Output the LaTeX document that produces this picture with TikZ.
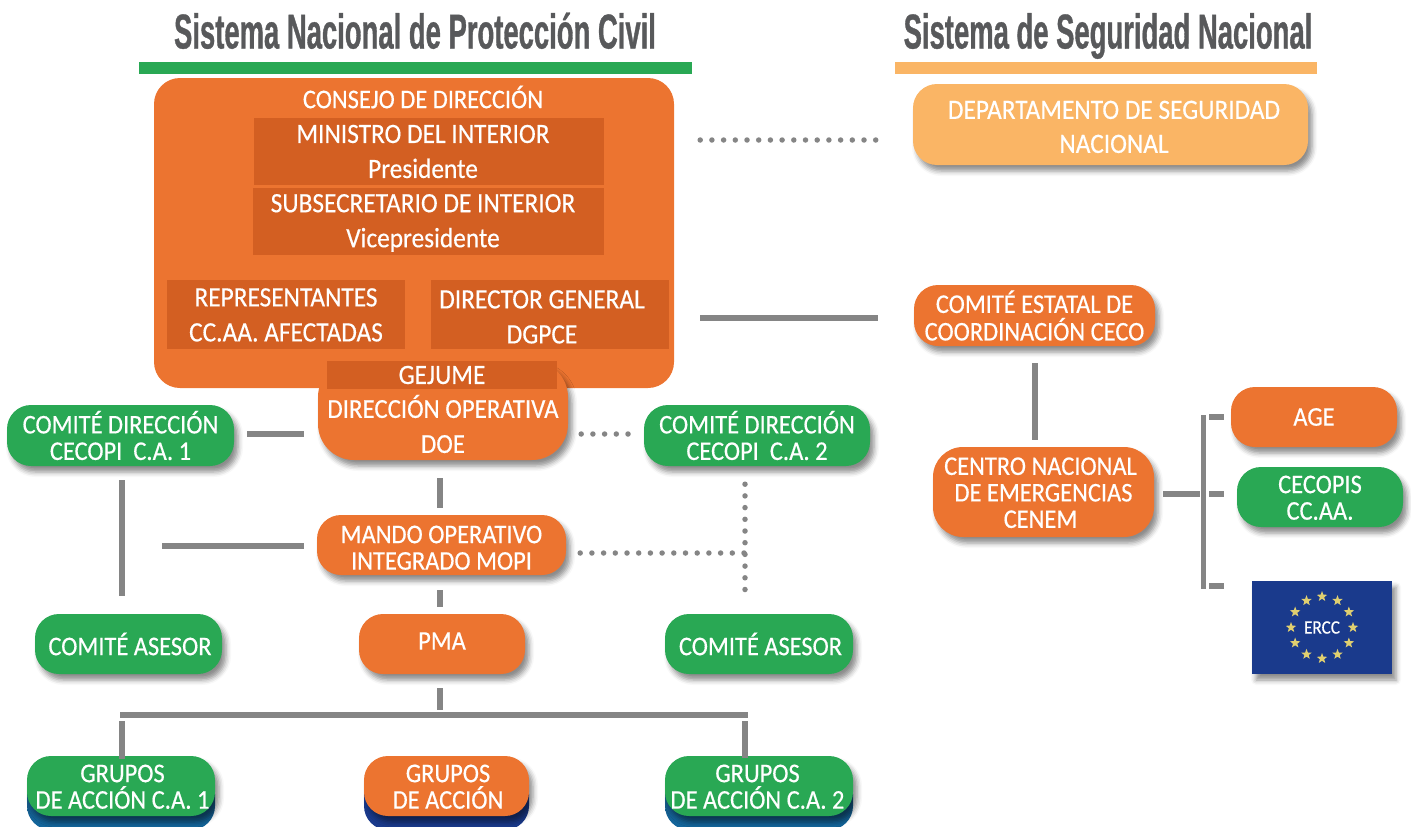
\documentclass[tikz,border=0pt]{standalone}
\usepackage{fontspec}
\setmainfont{Carlito}[FakeStretch=0.905,FakeBold=0.4]
\newfontfamily\titlefont{Liberation Sans Bold}[FakeStretch=0.56,FakeBold=0.7]
\usetikzlibrary{shadows.blur,shapes.geometric}

\definecolor{naranja}{HTML}{EC7430}
\definecolor{oscuro}{HTML}{D35F22}
\definecolor{verde}{HTML}{29A854}
\definecolor{claro}{HTML}{FAB565}
\definecolor{gris}{HTML}{858585}
\definecolor{titulo}{HTML}{58595B}
\definecolor{azul}{HTML}{1A3A8C}
\definecolor{teal}{HTML}{12689F}
\definecolor{tealoscuro}{HTML}{1A4A70}
\definecolor{estrella}{HTML}{E0CF70}

\newcommand{\baja}[1]{\rule{0pt}{#1pt}}
\newcommand{\sube}[1]{\rule[-#1pt]{0pt}{#1pt}}
\newcommand{\mueve}[1]{\hspace*{#1pt}}

\tikzstyle{sombra} = [blur shadow={shadow xshift=4pt, shadow yshift=-6pt, shadow blur radius=5pt, shadow opacity=45}]
\tikzstyle{pill} = [rectangle, rounded corners=24pt, inner sep=0pt, text=white, align=center, sombra, font=\fontsize{27}{26.5}\selectfont]
\tikzstyle{orange} = [pill, fill=naranja]
\tikzstyle{green} = [pill, fill=verde]
\tikzstyle{inner} = [rectangle, inner sep=0pt, fill=oscuro, text=white, align=center, font=\fontsize{28}{35}\selectfont]
\tikzstyle{base} = [rectangle, rounded corners=24pt, minimum width=188, minimum height=60]
\tikzstyle{baseteal} = [base, top color=tealoscuro, bottom color=teal]
\tikzstyle{heading} = [inner sep=0pt, anchor=base, text=titulo, font=\titlefont\fontsize{49}{50}\selectfont]
\tikzstyle{line} = [draw=gris, line width=5.5pt]
\tikzstyle{dots} = [draw=gris, line width=5.5pt, line cap=round, dash pattern=on 0pt off 11.7pt]

\begin{document}
\begin{tikzpicture}[x=1pt, y=-1pt]
	\useasboundingbox (0,0) rectangle (1411,827);

	% titles
	\node (tituloA) [heading] at (415,48.5) {Sistema Nacional de Protección Civil};
	\node (tituloB) [heading] at (1108,48.5) {Sistema de Seguridad Nacional};
	\node (barraA) [rectangle, fill=verde, inner sep=0pt, minimum width=553, minimum height=12] at (415.5,68) {};
	\node (barraB) [rectangle, fill=claro, inner sep=0pt, minimum width=422, minimum height=12] at (1106,67.5) {};

	% consejo
	\node (consejo) [rectangle, rounded corners=26pt, fill=naranja, minimum width=520, minimum height=310] at (414,233) {};
	\node (cabecera) [text=white, inner sep=0pt, font=\fontsize{27}{26}\selectfont] at (423,97) {CONSEJO DE DIRECCIÓN};
	\node (ministro) [inner, minimum width=350, minimum height=67] at (429,151.5) {MINISTRO DEL INTERIOR\mueve{12}\\Presidente\mueve{12}};
	\node (subsecretario) [inner, minimum width=351, minimum height=67] at (428.5,221.5) {\baja{21}SUBSECRETARIO DE INTERIOR\mueve{11}\\Vicepresidente\mueve{11}};
	\node (representantes) [inner, minimum width=238, minimum height=69] at (286,314.5) {\baja{19}REPRESENTANTES\\CC.AA. AFECTADAS};
	\node (director) [inner, minimum width=238, minimum height=69] at (550,314.5) {\baja{23}DIRECTOR GENERAL\mueve{16}\\DGPCE\mueve{16}};
	\node (doe) [orange, rounded corners=36pt, minimum width=250, minimum height=99, font=\fontsize{27.5}{35}\selectfont] at (443,410.5) {\baja{15}\\DIRECCIÓN OPERATIVA\\DOE};
	\node (gejume) [inner, minimum width=230, minimum height=28] at (442,375) {GEJUME};

	% left column
	\node (cecopiA) [green, minimum width=227, minimum height=61] at (120.5,435.5) {\sube{2}COMITÉ DIRECCIÓN\\CECOPI\ \ C.A. 1};
	\node (cecopiB) [green, minimum width=226, minimum height=61] at (757,435.5) {\sube{2}COMITÉ DIRECCIÓN\\CECOPI\ \ C.A. 2};
	\node (mopi) [orange, minimum width=249, minimum height=60] at (441.5,545) {\baja{23}MANDO OPERATIVO\\INTEGRADO MOPI};
	\node (asesorA) [green, minimum width=187, minimum height=60] at (128.5,644) {\mueve{3}COMITÉ ASESOR};
	\node (pma) [orange, minimum width=166, minimum height=60] at (442,644) {\sube{6}PMA};
	\node (asesorB) [green, minimum width=188, minimum height=60] at (759,644) {\mueve{3}COMITÉ ASESOR};

	% grupos
	\node (baseA) [baseteal] at (121,800) {};
	\node (baseB) [base, fill=azul, minimum width=165] at (446.5,800) {};
	\node (baseC) [baseteal] at (759,800) {};
	\node (gruposA) [green, minimum width=188, minimum height=60] at (121,786) {\baja{19}\mueve{3}GRUPOS\\\mueve{3}DE ACCIÓN C.A. 1};
	\node (gruposB) [orange, minimum width=165, minimum height=60] at (446.5,786) {\baja{19}\mueve{3}GRUPOS\\\mueve{3}DE ACCIÓN};
	\node (gruposC) [green, minimum width=188, minimum height=60] at (759,786) {\baja{19}GRUPOS\mueve{3}\\DE ACCIÓN C.A. 2\mueve{3}};

	% right column
	\node (dsn) [pill, fill=claro, minimum width=395, minimum height=81, font=\fontsize{28}{34}\selectfont] at (1110.5,124.5) {\baja{23}\mueve{7}DEPARTAMENTO DE SEGURIDAD\\\mueve{7}NACIONAL};
	\node (ceco) [orange, minimum width=241, minimum height=61] at (1034.5,315.5) {\sube{4}COMITÉ ESTATAL DE\\COORDINACIÓN CECO};
	\node (cenem) [orange, rounded corners=30pt, minimum width=221, minimum height=90] at (1043.5,492) {\baja{19}CENTRO NACIONAL\mueve{6}\\DE EMERGENCIAS\mueve{6}\\CENEM\mueve{6}};
	\node (age) [orange, minimum width=166, minimum height=60] at (1314,417) {AGE};
	\node (cecopis) [green, minimum width=166, minimum height=60] at (1320,497) {\baja{19}CECOPIS\\CC.AA.};
	\node (ercc) [rectangle, fill=azul, inner sep=0pt, text=white, sombra, minimum width=140, minimum height=93, font=\fontsize{19}{20}\selectfont] at (1322,627.5) {ERCC};
	\foreach \a in {0,30,...,330}
		\node (estrella\a) [star, star points=5, star point ratio=2.4, fill=estrella, inner sep=0pt, minimum size=11] at ([shift={(\a:31)}]ercc.center) {};

	% helpers
	\coordinate (busA) at (1203.5,415);
	\coordinate (busB) at (1203.5,589);
	\coordinate (ramaA) at (122,715);
	\coordinate (ramaB) at (745,715);

	% connectors
	\draw [dots, shorten <=26, shorten >=35] (consejo.east |- 0,140) -- (dsn.west |- 0,140);
	\draw [line, shorten <=26, shorten >=36] (consejo.east |- 0,318) -- (ceco.west |- 0,318);
	\draw [line, shorten <=17, shorten >=7] (1035,346) -- (1035,447);
	\draw [line, shorten <=9, shorten >=4] (cenem.east |- 0,494) -- (busA |- 0,494);
	\draw [line] (busA) -- (busB);
	\draw [line, shorten <=7, shorten >=5] (age.west) -- (age.west -| busA);
	\draw [line, shorten <=13, shorten >=5] (cecopis.west |- 0,494) -- (busA |- 0,494);
	\draw [line, shorten <=28, shorten >=5] (ercc.west |- 0,586) -- (busA |- 0,586);

	\draw [line, shorten <=13, shorten >=14] (cecopiA.east |- 0,434) -- (doe.west |- 0,434);
	\draw [dots, shorten <=13, shorten >=15] (doe.east |- 0,434) -- (cecopiB.west |- 0,434);
	\draw [line, shorten <=18, shorten >=7] (440,0 |- doe.south) -- (440,0 |- mopi.north);
	\draw [line, shorten <=14, shorten >=18] (122,0 |- cecopiA.south) -- (122,0 |- asesorA.north);
	\coordinate (cruceA) at (122,546);
	\draw [line, shorten <=13, shorten >=40] (mopi.west |- 0,546) -- (cruceA);
	\draw [dots, shorten <=14, shorten >=0] (mopi.east |- 0,553) -- (745,553);
	\draw [dots, shorten <=18, shorten >=18] (745,0 |- cecopiB.south) -- (745,0 |- asesorB.north);
	\draw [line, shorten <=15, shorten >=7] (440,0 |- mopi.south) -- (440,0 |- pma.north);
	\draw [line, shorten <=14, shorten >=5] (440,0 |- pma.south) -- (440,715);
	\draw [line, line width=6pt, shorten <=-2, shorten >=-3] (ramaA) -- (ramaB);
	\draw [line, shorten <=6, shorten >=11] (ramaA) -- (122,0 |- baseA.north);
	\draw [line, shorten <=6, shorten >=12] (ramaB) -- (745,0 |- baseC.north);
\end{tikzpicture}
\end{document}
